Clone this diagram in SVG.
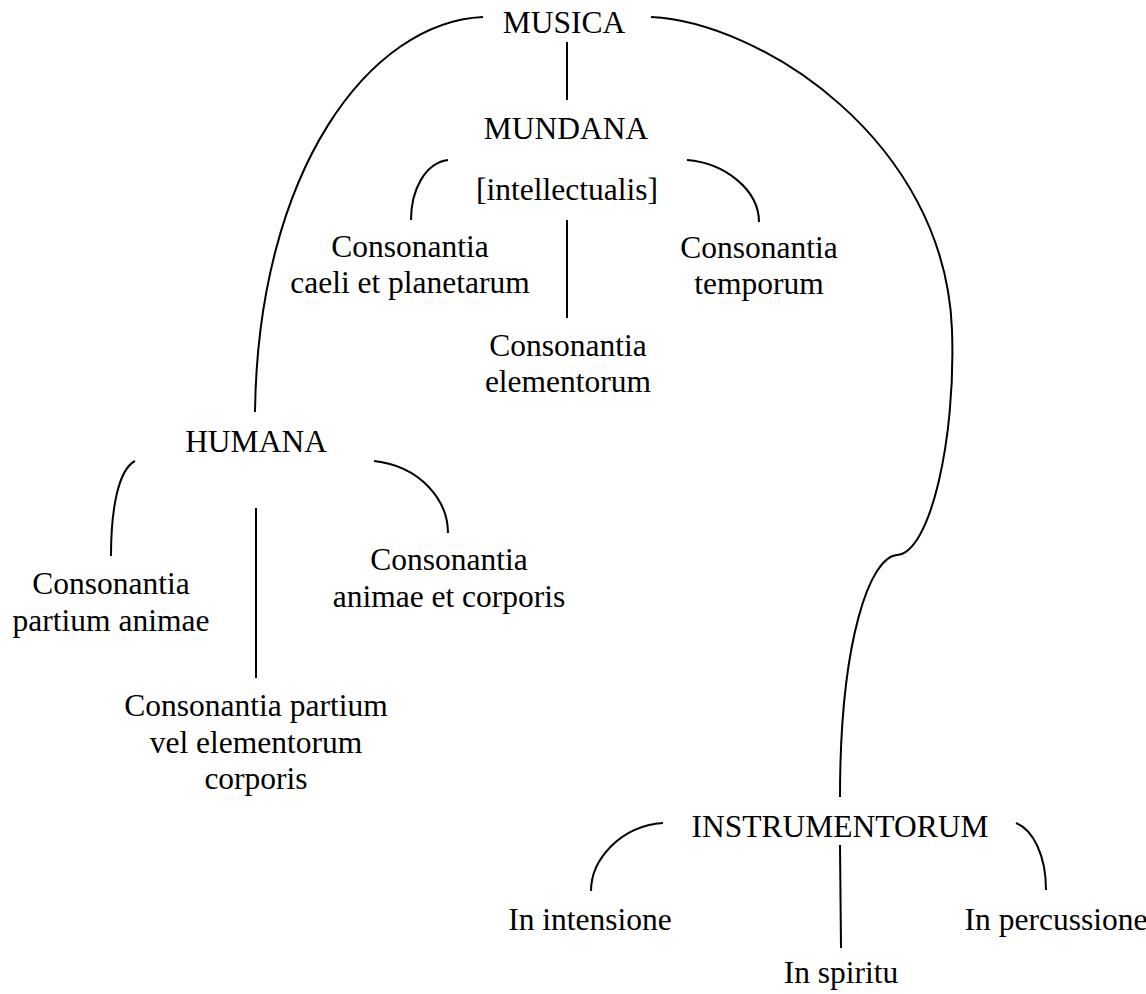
<svg xmlns="http://www.w3.org/2000/svg" width="1146" height="994" viewBox="0 0 1146 994">
<style>
text{font-family:"Liberation Serif","Times New Roman",serif;font-size:31.5px;fill:#000;text-anchor:middle}
.c{fill:none;stroke:#000;stroke-width:2;stroke-linecap:butt}
</style>
<rect width="1146" height="994" fill="#fff"/>
<g id="connectors">
<path class="c" d="M483,17 C370,22 258,170 255,412"/>
<path class="c" d="M651,17 C760,22 945,140 952,330 C956,440 930,553 897,555 C870,557 840,640 840,797"/>
<path class="c" d="M567,42 L567,100"/>
<path class="c" d="M448,160 C425,163 411,190 411,220"/>
<path class="c" d="M687,160 C725,163 759,190 759,222"/>
<path class="c" d="M567,220 L567,318"/>
<path class="c" d="M135,461 C118,470 111,510 111,556"/>
<path class="c" d="M374,461 C420,466 448,500 448,533"/>
<path class="c" d="M256,508 L256,678"/>
<path class="c" d="M663,823 C620,826 591,860 591,891"/>
<path class="c" d="M1016,823 C1033,830 1046,855 1046,890"/>
<path class="c" d="M840,845 L841,948"/>
</g>
<g id="musica"><text x="564" y="33">MUSICA</text></g>
<g id="mundana"><text x="566" y="139">MUNDANA</text><text x="567" y="200">[intellectualis]</text></g>
<g id="caeli"><text x="410" y="257">Consonantia</text><text x="410" y="293">caeli et planetarum</text></g>
<g id="temporum"><text x="759" y="258">Consonantia</text><text x="759" y="294">temporum</text></g>
<g id="elementorum"><text x="568" y="356">Consonantia</text><text x="568" y="392">elementorum</text></g>
<g id="humana"><text x="256" y="452">HUMANA</text></g>
<g id="partium-animae"><text x="111" y="594">Consonantia</text><text x="111" y="631">partium animae</text></g>
<g id="animae-corporis"><text x="449" y="570">Consonantia</text><text x="449" y="607">animae et corporis</text></g>
<g id="partium-corporis"><text x="256" y="716">Consonantia partium</text><text x="256" y="753">vel elementorum</text><text x="256" y="789">corporis</text></g>
<g id="instrumentorum"><text x="840" y="837">INSTRUMENTORUM</text></g>
<g id="intensione"><text x="590" y="930">In intensione</text></g>
<g id="spiritu"><text x="841" y="983">In spiritu</text></g>
<g id="percussione"><text x="1056" y="930">In percussione</text></g>
</svg>
